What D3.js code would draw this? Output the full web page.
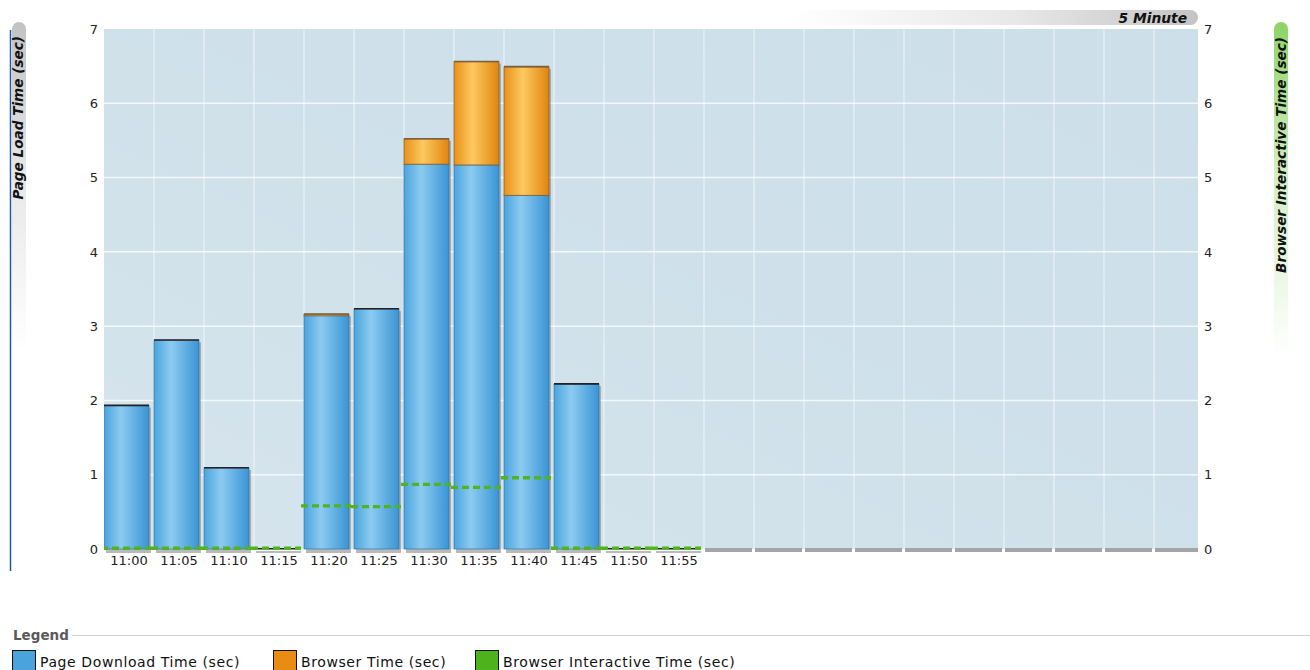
<!DOCTYPE html>
<html>
<head>
<meta charset="utf-8">
<script src="https://cdn.jsdelivr.net/npm/d3@7"></script>
<style>
  html, body { margin: 0; padding: 0; background: #fff; }
  svg { display: block; font-family: "DejaVu Sans", Verdana, sans-serif; }
</style>
</head>
<body>
<svg id="chart" width="1310" height="670"></svg>
<script>
// Five-minute buckets, values in seconds
const times = ["11:00", "11:05", "11:10", "11:15", "11:20", "11:25",
               "11:30", "11:35", "11:40", "11:45", "11:50", "11:55"];
const emptySlotCount = 10;            // future buckets with no data yet
const downloadTime    = [1.93, 2.81, 1.09, 0, 3.14, 3.23, 5.18, 5.17, 4.76, 2.22, 0, 0];
const browserTime     = [0, 0, 0, 0, 0.02, 0, 0.34, 1.39, 1.73, 0, 0, 0];
const interactiveTime = [0.01, 0.01, 0.01, 0.01, 0.58, 0.57, 0.87, 0.83, 0.96, 0.01, 0.01, 0.01];
const yTicks = [0, 1, 2, 3, 4, 5, 6, 7];

const legendItems = [
  { label: "Page Download Time (sec)", color: "#4aa3dd" },
  { label: "Browser Time (sec)", color: "#e88c14" },
  { label: "Browser Interactive Time (sec)", color: "#4db31c" }
];

const svg = d3.select("#chart");
const plot = { left: 104, right: 1198, top: 29, bottom: 549 };

const slotKeys = times.concat(d3.range(emptySlotCount).map(i => "empty" + i));
const x = d3.scaleBand().domain(slotKeys).range([plot.left, plot.left + 50 * slotKeys.length]);
const y = d3.scaleLinear().domain([0, 7]).range([plot.bottom, plot.top]);
const barW = 45;

const defs = svg.append("defs");
function grad(id, vertical, stops) {
  const g = defs.append("linearGradient").attr("id", id)
    .attr("x1", 0).attr("y1", 0)
    .attr("x2", vertical ? 0 : 1).attr("y2", vertical ? 1 : 0);
  stops.forEach(s => g.append("stop").attr("offset", s[0]).attr("stop-color", s[1]));
}
grad("blueGrad", false, [[0, "#4ba4de"], [0.38, "#8ccbf0"], [1, "#3994d5"]]);
grad("orangeGrad", false, [[0, "#e8911a"], [0.42, "#fdc960"], [1, "#e0840e"]]);
grad("minutePill", false, [[0, "#ffffff"], [0.55, "#e8e8e8"], [1, "#c4c4c4"]]);
grad("leftPill", true, [[0, "#c2c2c2"], [0.45, "#e6e6e6"], [1, "#ffffff"]]);
grad("rightPill", true, [[0, "#8cd466"], [0.45, "#d2efc2"], [1, "#ffffff"]]);
const sheen = defs.append("linearGradient").attr("id", "sheen")
  .attr("x1", 0).attr("y1", 1).attr("x2", 1).attr("y2", 0);
sheen.append("stop").attr("offset", 0).attr("stop-color", "#ffffff").attr("stop-opacity", 0.18);
sheen.append("stop").attr("offset", 0.5).attr("stop-color", "#ffffff").attr("stop-opacity", 0.05);
sheen.append("stop").attr("offset", 1).attr("stop-color", "#ffffff").attr("stop-opacity", 0);
defs.append("clipPath").attr("id", "plotClip").append("rect")
  .attr("x", plot.left).attr("y", plot.top - 5)
  .attr("width", plot.right - plot.left).attr("height", plot.bottom - plot.top + 10);

// plot background
svg.append("rect").attr("x", plot.left).attr("y", plot.top)
  .attr("width", plot.right - plot.left).attr("height", plot.bottom - plot.top)
  .attr("fill", "#cddfe9");
svg.append("rect").attr("x", plot.left).attr("y", plot.top)
  .attr("width", plot.right - plot.left).attr("height", plot.bottom - plot.top)
  .attr("fill", "url(#sheen)");

const g = svg.append("g").attr("clip-path", "url(#plotClip)");

// grid
g.selectAll(".hgrid").data(yTicks.slice(1, -1)).join("line")
  .attr("x1", plot.left).attr("x2", plot.right)
  .attr("y1", d => y(d)).attr("y2", d => y(d))
  .attr("stroke", "#ffffff").attr("stroke-opacity", 0.75).attr("stroke-width", 1.5);
g.selectAll(".vgrid").data(slotKeys.slice(1)).join("line")
  .attr("x1", d => x(d)).attr("x2", d => x(d))
  .attr("y1", plot.top).attr("y2", plot.bottom)
  .attr("stroke", "#ffffff").attr("stroke-opacity", 0.45).attr("stroke-width", 1.5);

// base strips for buckets without data
g.selectAll(".emptyBase").data(slotKeys.slice(times.length)).join("rect")
  .attr("x", d => x(d) + 1).attr("y", plot.bottom - 1)
  .attr("width", x.bandwidth() - 3).attr("height", 4)
  .attr("fill", "#a5a5a5");

const rows = times.map((t, i) => ({
  t, dl: downloadTime[i], br: browserTime[i], it: interactiveTime[i]
}));

// bar shadows
g.selectAll(".shadow").data(rows).join("rect")
  .attr("x", d => x(d.t) + 2).attr("y", d => y(d.dl + d.br) + 2)
  .attr("width", barW).attr("height", d => plot.bottom + 2 - y(d.dl + d.br))
  .attr("fill", "#8a8a8a").attr("fill-opacity", 0.6);

// page download segment
g.selectAll(".dl").data(rows.filter(d => d.dl > 0)).join("rect")
  .attr("x", d => x(d.t)).attr("y", d => y(d.dl))
  .attr("width", barW).attr("height", d => y(0) - y(d.dl))
  .attr("fill", "url(#blueGrad)")
  .attr("stroke", "#2f6f9e").attr("stroke-opacity", 0.65).attr("stroke-width", 1);

// browser segment stacked on top
g.selectAll(".br").data(rows.filter(d => d.br > 0)).join("rect")
  .attr("x", d => x(d.t)).attr("y", d => y(d.dl + d.br))
  .attr("width", barW).attr("height", d => y(d.dl) - y(d.dl + d.br))
  .attr("fill", "url(#orangeGrad)")
  .attr("stroke", "#7a5520").attr("stroke-opacity", 0.7).attr("stroke-width", 1);

// top edge of every stack
g.selectAll(".topEdge").data(rows).join("line")
  .attr("x1", d => x(d.t)).attr("x2", d => x(d.t) + barW)
  .attr("y1", d => y(d.dl + d.br) - 0.25).attr("y2", d => y(d.dl + d.br) - 0.25)
  .attr("stroke", d => d.br > 0 ? "#7a6040" : "#222")
  .attr("stroke-width", 1.6);

// interactive time, one dashed step per bucket
g.selectAll(".it").data(rows).join("line")
  .attr("x1", d => x(d.t) - 3).attr("x2", d => x(d.t) + x.bandwidth() - 3)
  .attr("y1", d => y(d.it)).attr("y2", d => y(d.it))
  .attr("stroke", "#4fb41e").attr("stroke-width", 3.4)
  .attr("stroke-dasharray", "7,4");

// axes
const tickFont = s => s.selectAll("text")
  .attr("font-size", 13).attr("fill", "#222").attr("font-family", "DejaVu Sans, sans-serif");

svg.append("g").attr("transform", `translate(${plot.left - 2},0)`)
  .call(d3.axisLeft(y).tickValues(yTicks).tickSize(0).tickPadding(4).tickFormat(d3.format("d")))
  .call(s => s.select(".domain").remove())
  .call(tickFont);

svg.append("g").attr("transform", `translate(${plot.right + 2},0)`)
  .call(d3.axisRight(y).tickValues(yTicks).tickSize(0).tickPadding(4).tickFormat(d3.format("d")))
  .call(s => s.select(".domain").remove())
  .call(tickFont);

svg.append("g").attr("transform", `translate(0,${plot.bottom + 3})`)
  .call(d3.axisBottom(x).tickValues(times).tickSize(0).tickPadding(4))
  .call(s => s.select(".domain").remove())
  .call(tickFont);

// left axis rule
svg.append("line").attr("x1", 10.5).attr("x2", 10.5).attr("y1", 30).attr("y2", 571)
  .attr("stroke", "#1f58a8").attr("stroke-width", 1.5);

// axis title pills
svg.append("rect").attr("x", 12).attr("y", 22).attr("width", 14).attr("height", 330)
  .attr("rx", 7).attr("fill", "url(#leftPill)");
svg.append("text").attr("transform", "translate(23,36) rotate(-90)")
  .attr("text-anchor", "end").attr("font-size", 13.6).attr("font-weight", "bold")
  .attr("font-style", "italic").attr("fill", "#111").text("Page Load Time (sec)");

svg.append("rect").attr("x", 1274).attr("y", 22).attr("width", 14).attr("height", 335)
  .attr("rx", 7).attr("fill", "url(#rightPill)");
svg.append("text").attr("transform", "translate(1286,37) rotate(-90)")
  .attr("text-anchor", "end").attr("font-size", 13.6).attr("font-weight", "bold")
  .attr("font-style", "italic").attr("fill", "#111").text("Browser Interactive Time (sec)");

// interval badge
svg.append("rect").attr("x", 790).attr("y", 10).attr("width", 408).attr("height", 15)
  .attr("rx", 7.5).attr("fill", "url(#minutePill)");
svg.append("text").attr("x", 1187).attr("y", 22.5).attr("text-anchor", "end")
  .attr("font-size", 13.8).attr("font-weight", "bold").attr("font-style", "italic")
  .attr("fill", "#111").text("5 Minute");

// legend
svg.append("text").attr("x", 13).attr("y", 640).attr("font-size", 13.5)
  .attr("font-weight", "bold").attr("fill", "#5a5a5a").text("Legend");
svg.append("line").attr("x1", 72).attr("x2", 1310).attr("y1", 635.5).attr("y2", 635.5)
  .attr("stroke", "#cfcfcf").attr("stroke-width", 1);

const legendX = [12, 273, 475];
const lg = svg.selectAll(".legendItem").data(legendItems).join("g")
  .attr("transform", (d, i) => `translate(${legendX[i]},650)`);
lg.append("rect").attr("x", 0.5).attr("y", 0.5).attr("width", 23).attr("height", 24)
  .attr("fill", d => d.color).attr("stroke", "#111").attr("stroke-width", 1);
lg.append("text").attr("x", 28).attr("y", 16.5).attr("font-size", 14)
  .attr("letter-spacing", 0.6).attr("fill", "#111").text(d => d.label);
</script>
</body>
</html>
